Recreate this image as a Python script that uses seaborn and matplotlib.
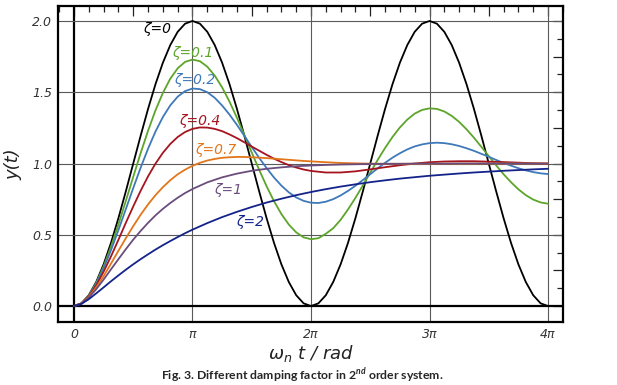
import numpy as np
import pandas as pd
import matplotlib
matplotlib.use("Agg")
import matplotlib.pyplot as plt
import seaborn as sns
from matplotlib.ticker import MultipleLocator, FuncFormatter

# step responses, x = omega_n * t
t_fine = np.linspace(0, 4 * np.pi, 65)  # pi/16 spacing
# pi/16 up to 2*pi, then pi/8
t_mid = np.concatenate([np.linspace(0, 2 * np.pi, 33), np.linspace(2 * np.pi, 4 * np.pi, 17)[1:]])
# pi/16 up to pi, then pi/8
t_slow = np.concatenate([np.linspace(0, np.pi, 17), np.linspace(np.pi, 4 * np.pi, 25)[1:]])

y_z0 = [0, .019, .076, .169, .293, .444, .617, .805, 1.0, 1.195, 1.383, 1.556, 1.707, 1.831, 1.924, 1.981, 2.0,
        1.981, 1.924, 1.831, 1.707, 1.556, 1.383, 1.195, 1.0, .805, .617, .444, .293, .169, .076, .019, 0,
        .019, .076, .169, .293, .444, .617, .805, 1.0, 1.195, 1.383, 1.556, 1.707, 1.831, 1.924, 1.981, 2.0,
        1.981, 1.924, 1.831, 1.707, 1.556, 1.383, 1.195, 1.0, .805, .617, .444, .293, .169, .076, .019, 0]

y_z01 = [0, .019, .074, .162, .278, .417, .573, .738, .907, 1.073, 1.230, 1.373, 1.495, 1.595, 1.668, 1.713, 1.729,
         1.718, 1.679, 1.617, 1.534, 1.434, 1.321, 1.201, 1.077, .956, .841, .736, .646, .572, .517, .482, .469,
         .476, .507, .546, .605, .678, .759, .846, .936, 1.025, 1.109, 1.186, 1.253, 1.308, 1.350, 1.376, 1.387,
         1.383, 1.365, 1.334, 1.292, 1.240, 1.181, 1.117, 1.052, .987, .925, .869, .819, .778, .747, .727, .718]

y_z02 = [0, .019, .072, .156, .265, .392, .533, .680, .828, .971, 1.104, 1.224, 1.326, 1.408, 1.469, 1.508, 1.526,
         1.522, 1.500, 1.461, 1.407, 1.343, 1.271, 1.194, 1.116, 1.040, .968, .902, .845, .798, .762, .738, .725,
         .723, .732, .750, .776, .808, .844, .884, .925, .966, 1.005, 1.041, 1.072, 1.099, 1.120, 1.134, 1.143,
         1.146, 1.143, 1.135, 1.123, 1.107, 1.089, 1.068, 1.047, 1.025, 1.004, .985, .967, .952, .940, .931, .926]

y_z04 = [0, .018, .069, .145, .241, .349, .465, .584, .699, .809, .910, .999, 1.075, 1.137, 1.186, 1.221, 1.243,
         1.253, 1.252, 1.243, 1.227, 1.204, 1.178, 1.149, 1.119, 1.090, 1.061, 1.034, 1.010, .989, .972, .958, .948,
         .937, .937, .945, .959, .974, .988, 1.000, 1.009, 1.014, 1.016, 1.016, 1.013, 1.010, 1.006, 1.002, .999]

y_z07 = [0, .018, .064, .131, .210, .298, .388, .476, .561, .641, .713, .778, .834, .883, .924, .957, .984,
         1.005, 1.021, 1.032, 1.040, 1.044, 1.046, 1.046, 1.044, 1.041, 1.038, 1.034, 1.030, 1.026, 1.022, 1.018, 1.015,
         1.009, 1.004, 1.001, .999, .998, .998, .998, .998, .999, .999, .999, 1.0, 1.0, 1.0, 1.0, 1.0]

y_z1 = [0, .017, .060, .118, .186, .258, .329, .399, .466, .527, .584, .636, .682, .723, .760, .793, .821,
        .868, .903, .929, .949, .963, .973, .981, .986, .990, .993, .995, .997, .998, .998, .999, .999,
        .999, 1.0, 1.0, 1.0, 1.0, 1.0, 1.0, 1.0]

y_z2 = [0, .015, .048, .089, .131, .174, .215, .255, .293, .329, .363, .396, .427, .456, .484, .511, .536,
        .582, .624, .661, .695, .726, .753, .778, .800, .820, .838, .854, .869, .882, .894, .904, .914,
        .922, .930, .937, .943, .949, .954, .959, .963]

zeta_labels = ["ζ=0", "ζ=0.1", "ζ=0.2", "ζ=0.4", "ζ=0.7", "ζ=1", "ζ=2"]
x_tick_labels = ["0", "π", "2π", "3π", "4π"]
y_ticks = [0.0, 0.5, 1.0, 1.5, 2.0]

sns.set_style("white")
plt.rcParams['font.family'] = ['DejaVu Sans']
plt.rcParams['font.style'] = 'italic'
plt.rcParams['mathtext.fontset'] = 'custom'
plt.rcParams['mathtext.it'] = 'DejaVu Sans:italic'
plt.rcParams['mathtext.rm'] = 'DejaVu Sans:italic'
plt.rcParams['mathtext.bf'] = 'Lato:bold'

fig = plt.figure(figsize=(6.17, 3.85), dpi=100)
ax = fig.add_axes([0.094, 0.1636, 0.8185, 0.8208])

x_ticks = [i * np.pi for i in range(len(x_tick_labels))]

# grid only at the labelled positions, zero lines heavier
for v in x_ticks:
    ax.axvline(v, color="black" if v == 0 else "#5a5a5a", lw=1.6 if v == 0 else 0.8, zorder=1)
for v in y_ticks:
    ax.axhline(v, color="black" if v == 0 else "#5a5a5a", lw=1.6 if v == 0 else 0.8, zorder=1)

curves = [
    (t_fine, y_z0, "#000000"),
    (t_fine, y_z01, "#5da52a"),
    (t_fine, y_z02, "#3f79b9"),
    (t_mid, y_z04, "#a5141f"),
    (t_mid, y_z07, "#e2761b"),
    (t_slow, y_z1, "#6a4d7c"),
    (t_slow, y_z2, "#14238a"),
]
for t, y, c in curves:
    sns.lineplot(x=t, y=y, color=c, lw=1.3, ax=ax, zorder=3)

# curve labels
label_pos = [(2.20, 1.945), (3.155, 1.777), (3.208, 1.587), (3.34, 1.299),
             (3.765, 1.095), (4.083, 0.815), (4.666, 0.590)]
for (lx, ly), txt, (_, _, c) in zip(label_pos, zeta_labels, curves):
    ax.text(lx, ly, txt, color=c, fontsize=10, ha="center", va="center", zorder=4)

ax.set_xlim(-0.424, 12.964)
ax.set_ylim(-0.112, 2.105)

ax.xaxis.set_major_locator(MultipleLocator(np.pi / 2))
ax.xaxis.set_minor_locator(MultipleLocator(np.pi / 8))
ax.xaxis.set_major_formatter(FuncFormatter(
    lambda v, pos: x_tick_labels[int(round(v / np.pi))]
    if abs(v / np.pi - round(v / np.pi)) < 1e-6 and 0 <= round(v / np.pi) < len(x_tick_labels) else ""))
ax.yaxis.set_major_locator(MultipleLocator(0.25))
ax.yaxis.set_minor_locator(MultipleLocator(0.125))
ax.yaxis.set_major_formatter(FuncFormatter(
    lambda v, pos: f"{v:.1f}" if abs(v * 2 - round(v * 2)) < 1e-6 and v >= 0 else ""))

ax.tick_params(which="both", direction="in", top=True, right=True, color="#222222",
               labelsize=9, labelcolor="#333333", pad=4)
ax.tick_params(which="major", length=7, width=0.9)
ax.tick_params(which="minor", length=4, width=0.9)

for s in ax.spines.values():
    s.set_linewidth(1.6)
    s.set_color("black")

ax.set_xlabel("ω$_n$ t / rad", fontsize=13, color="#222222", labelpad=2)
ax.set_ylabel("y(t)", fontsize=13, color="#222222", labelpad=7)

fig.text(302 / 617, 1 - 376 / 385, r"Fig. 3. Different damping factor in 2$^{\mathbf{nd}}$ order system.",
         family="Lato", fontweight="bold", fontstyle="normal", fontsize=8.8, ha="center", va="center")

fig.savefig("out.png", dpi=100)
